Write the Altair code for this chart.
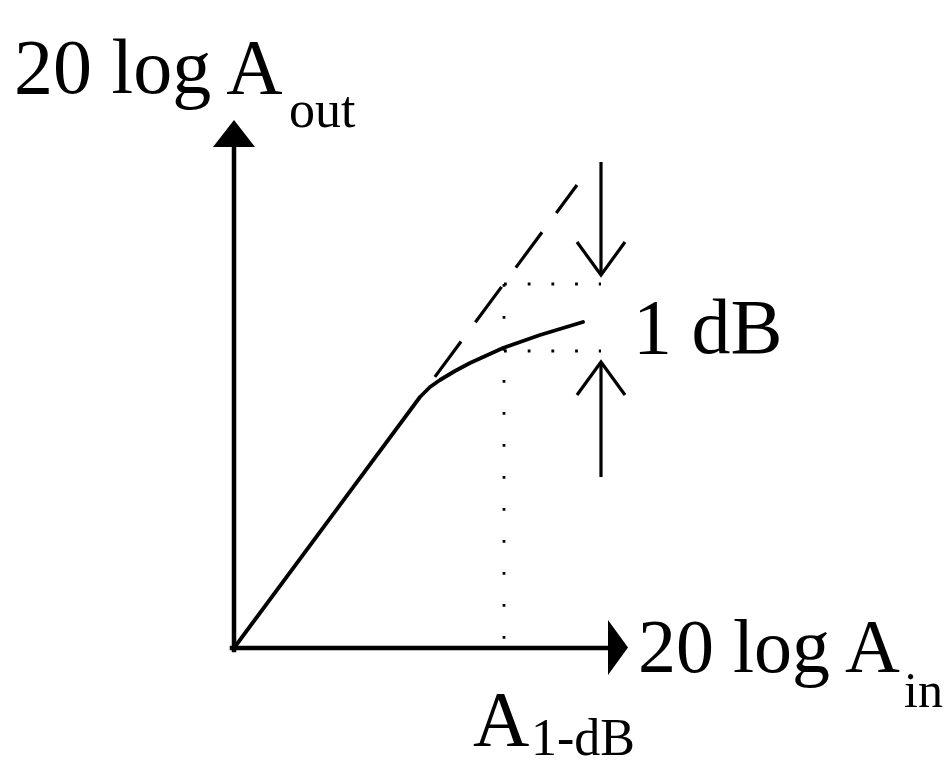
import altair as alt
import pandas as pd

# ---- data (diagram units: input level to the right, output level upward) ----
# real amplifier response: linear, then compressing
curve_x = [0, 186, 196, 206, 221, 236, 269, 306, 349]
curve_y = [0, 251, 261, 268, 277, 285, 300, 313, 326]
# ideal (extrapolated linear) response, dashed
ideal_x = [186, 343]
ideal_y = [251, 463]
# 1-dB compression point markers
p1db_x = 270
p1db_ideal_y = 364
p1db_real_y = 297
marker_x_end = 367
# labels
label_text = ["20 log A", "out", "20 log A", "in", "1 dB", "A", "1-dB"]
label_x = [-220, 55, 404, 670, 399, 239, 297]
label_y = [555, 521, -24, -59, 295, -97, -107]
label_size = [78, 52, 76, 50, 78, 78, 52]

W, H = 935, 758
xs = alt.Scale(domain=[-226, 709], nice=False, zero=False)
ys = alt.Scale(domain=[-118, 640], nice=False, zero=False)


def rule_layer(df, **kw):
    return alt.Chart(df).mark_rule(color="black", **kw).encode(
        x=alt.X("x:Q", scale=xs, axis=None),
        y=alt.Y("y:Q", scale=ys, axis=None),
        x2="x2:Q",
        y2="y2:Q",
    )


def line_layer(df, **kw):
    return alt.Chart(df).mark_line(color="black", **kw).encode(
        x=alt.X("x:Q", scale=xs, axis=None),
        y=alt.Y("y:Q", scale=ys, axis=None),
        detail="id:N",
        order="ord:Q",
    )


# axes shafts
axes_df = pd.DataFrame({"x": [0, -2], "y": [-2, 0], "x2": [0, 374], "y2": [500, 0]})
axes = rule_layer(axes_df, strokeWidth=4.5, strokeCap="square")

# axis arrowheads (filled triangles)
up_tri = pd.DataFrame({"x": [0], "y": [514.5]})
right_tri = pd.DataFrame({"x": [384], "y": [0.5]})
tri_up = alt.Chart(up_tri).mark_point(
    shape="M-1,0.643L1,0.643L0,-0.643Z", size=1764, filled=True, color="black", opacity=1
).encode(x=alt.X("x:Q", scale=xs, axis=None), y=alt.Y("y:Q", scale=ys, axis=None))
tri_right = alt.Chart(right_tri).mark_point(
    shape="M-0.364,-1L0.364,0L-0.364,1Z", size=3025, filled=True, color="black", opacity=1
).encode(x=alt.X("x:Q", scale=xs, axis=None), y=alt.Y("y:Q", scale=ys, axis=None))

# real response curve
curve_df = pd.DataFrame({"x": curve_x, "y": curve_y, "id": "real", "ord": range(len(curve_x))})
curve = line_layer(curve_df, strokeWidth=3.8, strokeJoin="round", strokeCap="round")

# ideal response, dashed
ideal_df = pd.DataFrame({"x": [ideal_x[0]], "y": [ideal_y[0]], "x2": [ideal_x[1]], "y2": [ideal_y[1]]})
ideal = rule_layer(ideal_df, strokeWidth=3.2, strokeDash=[44, 24], strokeDashOffset=43)

# dotted guide lines
hdots_df = pd.DataFrame({
    "x": [p1db_x, p1db_x], "y": [p1db_ideal_y, p1db_real_y],
    "x2": [marker_x_end, marker_x_end], "y2": [p1db_ideal_y, p1db_real_y],
})
hdots = rule_layer(hdots_df, strokeWidth=2.8, strokeDash=[2.8, 20.9])
vdots_df = pd.DataFrame({"x": [p1db_x], "y": [p1db_ideal_y], "x2": [p1db_x], "y2": [8]})
vdots = rule_layer(vdots_df, strokeWidth=2.8, strokeDash=[2.8, 29.2])

# 1 dB arrows: shafts
shaft_df = pd.DataFrame({"x": [367, 367], "y": [486, 286], "x2": [367, 367], "y2": [374, 171]})
shafts = rule_layer(shaft_df, strokeWidth=3.2)
# open arrowheads
heads_df = pd.DataFrame({
    "x": [343, 367, 391, 343, 367, 391],
    "y": [406, 373, 406, 253, 286, 253],
    "id": ["down"] * 3 + ["up"] * 3,
    "ord": [0, 1, 2, 0, 1, 2],
})
heads = line_layer(heads_df, strokeWidth=3.2, strokeJoin="miter")

# labels
lab_df = pd.DataFrame({"t": label_text, "x": label_x, "y": label_y, "fs": label_size})
labels = alt.Chart(lab_df).mark_text(
    font="Liberation Serif", align="left", baseline="alphabetic", color="black"
).encode(
    x=alt.X("x:Q", scale=xs, axis=None),
    y=alt.Y("y:Q", scale=ys, axis=None),
    text="t:N",
    size=alt.Size("fs:Q", scale=None, legend=None),
)

chart = alt.layer(
    axes, tri_up, tri_right, ideal, hdots, vdots, curve, shafts, heads, labels
).properties(
    width=W, height=H, padding=0,
    autosize=alt.AutoSizeParams(type="none"),
).configure_view(stroke=None)

chart.save("out.html", embed_options={"renderer": "svg", "actions": False})
